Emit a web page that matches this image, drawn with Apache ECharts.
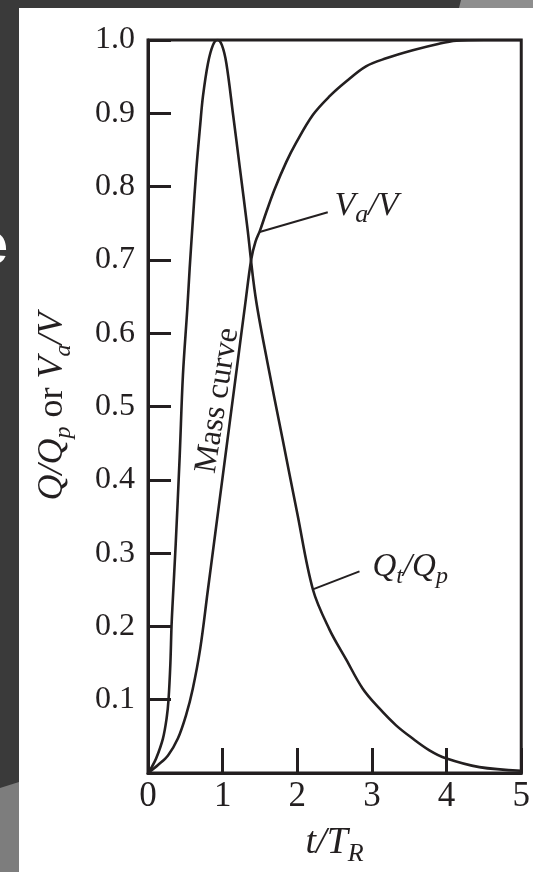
<!DOCTYPE html>
<html><head><meta charset="utf-8">
<script src="https://cdn.jsdelivr.net/npm/echarts@6/dist/echarts.min.js"></script>
<style>html,body{margin:0;padding:0;background:#3a3a3a;overflow:hidden;} #c{width:533px;height:872px;}</style>
</head><body><div id="c"></div>
<script>
// ---- data ----
const xTicks = [0, 1, 2, 3, 4, 5];
const yTicks = [0.1, 0.2, 0.3, 0.4, 0.5, 0.6, 0.7, 0.8, 0.9, 1.0];

// dimensionless hydrograph Q/Qp vs t/TR
const qTime  = [0, 0.05, 0.11, 0.2, 0.25, 0.275, 0.30, 0.315, 0.33, 0.37, 0.424, 0.468, 0.527, 0.558, 0.602, 0.647, 0.70, 0.736, 0.803, 0.87, 0.93, 0.99, 1.05, 1.14, 1.23, 1.33, 1.44, 1.60, 1.80, 2.00, 2.21, 2.43, 2.654, 2.877, 3.10, 3.323, 3.546, 3.77, 3.99, 4.44, 5.0];
const qRatio = [0, 0.008, 0.02, 0.047, 0.075, 0.10, 0.15, 0.20, 0.232, 0.31, 0.431, 0.543, 0.634, 0.688, 0.756, 0.823, 0.885, 0.923, 0.968, 0.993, 1.0, 0.993, 0.968, 0.898, 0.826, 0.745, 0.650, 0.560, 0.457, 0.354, 0.250, 0.196, 0.155, 0.115, 0.088, 0.065, 0.047, 0.031, 0.020, 0.008, 0.003];

// mass curve Va/V vs t/TR
const massTime  = [0, 0.134, 0.268, 0.40, 0.51, 0.60, 0.70, 0.80, 0.90, 1.00, 1.10, 1.20, 1.30, 1.383, 1.44, 1.50, 1.584, 1.695, 1.85, 1.985, 2.21, 2.43, 2.65, 2.92, 3.19, 3.546, 3.90, 4.13, 4.5, 5.0];
const massRatio = [0, 0.011, 0.024, 0.047, 0.079, 0.115, 0.170, 0.248, 0.326, 0.404, 0.482, 0.560, 0.638, 0.701, 0.725, 0.740, 0.765, 0.796, 0.833, 0.860, 0.898, 0.923, 0.943, 0.964, 0.975, 0.986, 0.995, 0.999, 1.0, 1.0];

// leader lines of the curve labels
const vaLeaderT = [1.495, 2.408];
const vaLeaderV = [0.738, 0.765];
const qLeaderT  = [2.208, 2.833];
const qLeaderV  = [0.2505, 0.275];

// anchors of the annotation texts (data coordinates)
const vaLabelAt   = [2.498, 0.774];
const qLabelAt    = [3.006, 0.281];
const massLabelAt = [0.933, 0.508];

// ---- drawing ----
const INK = '#231f20';
const SERIF = "'Liberation Serif', 'Times New Roman', serif";
const pairs = (a, b) => a.map((t, i) => [t, b[i]]);

const chart = echarts.init(document.getElementById('c'), null, {renderer: 'canvas'});

const option = {
  backgroundColor: 'transparent',
  animation: false,
  grid: {left: 148, top: 40, width: 374, height: 738, show: true, borderWidth: 3, borderColor: INK, backgroundColor: 'transparent'},
  xAxis: {
    type: 'value', min: xTicks[0], max: xTicks[xTicks.length - 1], interval: 1,
    axisLine: {show: true, lineStyle: {color: INK, width: 3}},
    axisTick: {show: true, inside: true, length: 25, lineStyle: {color: INK, width: 3}},
    splitLine: {show: false},
    axisLabel: {color: INK, fontFamily: SERIF, fontSize: 35, margin: 6, formatter: v => String(v)},
    name: '{i|t/T}{sub|R}',
    nameLocation: 'middle', nameGap: 46,
    nameTextStyle: {
      rich: {
        i: {fontFamily: SERIF, fontStyle: 'italic', fontSize: 38, color: INK, lineHeight: 48},
        sub: {fontFamily: SERIF, fontStyle: 'italic', fontSize: 26, color: INK, lineHeight: 26, verticalAlign: 'bottom'}
      }
    }
  },
  yAxis: {
    type: 'value', min: 0, max: 1, interval: 0.1,
    axisLine: {show: true, lineStyle: {color: INK, width: 3}},
    axisTick: {show: true, inside: true, length: 23, lineStyle: {color: INK, width: 3}},
    splitLine: {show: false},
    axisLabel: {color: INK, fontFamily: SERIF, fontSize: 32, margin: 13,
      formatter: v => (Math.abs(v) < 1e-9 ? '' : v.toFixed(1))},
    name: '{i|Q/Q}{sub|p}{r| or }{i|V}{sub|a}{i|/V}',
    nameLocation: 'middle', nameGap: 72, nameRotate: 90,
    nameTextStyle: {
      rich: {
        i: {fontFamily: SERIF, fontStyle: 'italic', fontSize: 36, color: INK, lineHeight: 46},
        r: {fontFamily: SERIF, fontSize: 36, color: INK, lineHeight: 46},
        sub: {fontFamily: SERIF, fontStyle: 'italic', fontSize: 24, color: INK, lineHeight: 24, verticalAlign: 'bottom'}
      }
    }
  },
  series: [
    {type: 'line', name: 'Q/Qp', data: pairs(qTime, qRatio), smooth: 0.35, showSymbol: false,
      lineStyle: {color: INK, width: 2.6}, z: 3},
    {type: 'line', name: 'Va/V', data: pairs(massTime, massRatio), smooth: 0.35, showSymbol: false,
      lineStyle: {color: INK, width: 2.6}, z: 3},
    {type: 'line', name: 'leaderVa', data: pairs(vaLeaderT, vaLeaderV), showSymbol: false,
      lineStyle: {color: INK, width: 2}, z: 3},
    {type: 'line', name: 'leaderQ', data: pairs(qLeaderT, qLeaderV), showSymbol: false,
      lineStyle: {color: INK, width: 2}, z: 3}
  ]
};
chart.setOption(option);

const px = p => chart.convertToPixel({gridIndex: 0}, p);
const vaP = px(vaLabelAt), qP = px(qLabelAt), mP = px(massLabelAt);

chart.setOption({
  graphic: [
    {type: 'rect', id: 'panel', z: -100, silent: true, shape: {x: 19, y: 8, width: 514, height: 864}, style: {fill: '#ffffff'}},
    {type: 'polygon', id: 'texBL', z: -99, silent: true, shape: {points: [[0, 788], [19, 782], [19, 872], [0, 872]]}, style: {fill: '#7d7d7d'}},
    {type: 'polygon', id: 'texTR', z: -99, silent: true, shape: {points: [[461, 0], [533, 0], [533, 8], [459, 8]]}, style: {fill: '#8e8e8e'}},
    {type: 'text', id: 'slideE', z: -98, silent: true, x: 8, y: 247,
      style: {text: 'e', fill: '#ffffff', font: "bold 60px 'Liberation Sans', Arial, sans-serif", align: 'right', verticalAlign: 'middle'}},
    {type: 'text', id: 'vaLab', z: 10, x: vaP[0], y: vaP[1],
      style: {text: '{i|V}{sub|a}{i|/V}', align: 'left', verticalAlign: 'middle',
        rich: {
          i: {fontFamily: SERIF, fontStyle: 'italic', fontSize: 34, fill: INK, lineHeight: 46},
          sub: {fontFamily: SERIF, fontStyle: 'italic', fontSize: 26, fill: INK, lineHeight: 26, verticalAlign: 'bottom'}
        }}},
    {type: 'text', id: 'qLab', z: 10, x: qP[0], y: qP[1],
      style: {text: '{i|Q}{sub|t}{i|/Q}{sub|p}', align: 'left', verticalAlign: 'middle',
        rich: {
          i: {fontFamily: SERIF, fontStyle: 'italic', fontSize: 33, fill: INK, lineHeight: 44},
          sub: {fontFamily: SERIF, fontStyle: 'italic', fontSize: 24, fill: INK, lineHeight: 24, verticalAlign: 'bottom'}
        }}},
    {type: 'text', id: 'massLab', z: 10, x: mP[0], y: mP[1], rotation: 81 * Math.PI / 180,
      style: {text: 'Mass curve', fill: INK, font: "32px 'Liberation Serif', 'Times New Roman', serif", align: 'center', verticalAlign: 'middle'}}
  ]
});
</script>
</body></html>
